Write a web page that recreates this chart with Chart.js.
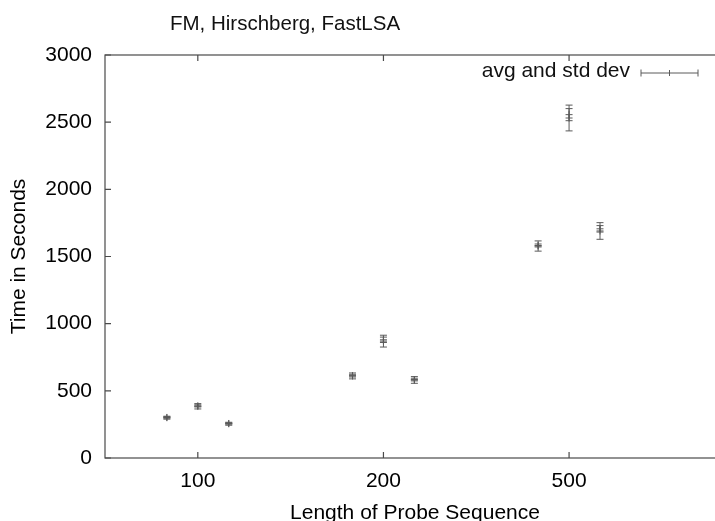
<!DOCTYPE html>
<html><head><meta charset="utf-8">
<script src="https://cdn.jsdelivr.net/npm/chart.js@4"></script>
<style>
html,body{margin:0;padding:0;overflow:hidden;background:#fff;width:715px;height:521px}
#wrap{position:absolute;left:0;top:0;width:740px;height:540px}
</style></head>
<body><div id="wrap"><canvas id="c" width="740" height="540"></canvas></div>
<script>
// ---- data ----
const chartTitle = 'FM, Hirschberg, FastLSA';
const xAxisTitle = 'Length of Probe Sequence';
const yAxisTitle = 'Time in Seconds';
const legendLabel = 'avg and std dev';
const categories = ['100', '200', '500'];           // probe lengths (x tick labels)
const algorithms = ['FM', 'Hirschberg', 'FastLSA'];  // order inside each group
const yTicks = [0, 500, 1000, 1500, 2000, 2500, 3000];

// run 1: averages and standard deviations (per probe length)
const fmAvg1 = [300, 611, 1578];
const fmStd1 = [11, 22, 38];
const hbAvg1 = [385, 870, 2531];
const hbStd1 = [20, 44, 96];
const flAvg1 = [255, 581, 1690];
const flStd1 = [11, 25, 62];
// run 2: averages and standard deviations (per probe length)
const fmAvg2 = [302, 613, 1582];
const fmStd2 = [6, 10, 11];
const hbAvg2 = [388, 880, 2556];
const hbStd2 = [8, 20, 45];
const flAvg2 = [257, 584, 1706];
const flStd2 = [5, 10, 24];

// ---- build points ----
const FONT = 'Liberation Sans, Arial, Helvetica, sans-serif';
const FS = 21;
const MARK = '#5a5a5a';
const groups = [[fmAvg1, fmStd1, fmAvg2, fmStd2], [hbAvg1, hbStd1, hbAvg2, hbStd2], [flAvg1, flStd1, flAvg2, flStd2]];
const points = [];
groups.forEach((g, a) => {
  categories.forEach((c, i) => {
    const xv = (i + 1) + (a - 1) / 6;
    points.push({x: xv, y: g[0][i], std: g[1][i]});
    points.push({x: xv, y: g[2][i], std: g[3][i]});
  });
});

const frame = {
  id: 'frame',
  afterDatasetsDraw(chart) {
    const {ctx, chartArea: ca, scales: {x, y}} = chart;
    ctx.save();
    ctx.strokeStyle = '#4a4a4a';
    ctx.lineWidth = 1.2;
    ctx.strokeRect(ca.left, ca.top, ca.right - ca.left, ca.bottom - ca.top);
    ctx.beginPath();
    y.ticks.forEach(t => {
      const py = y.getPixelForValue(t.value);
      ctx.moveTo(ca.left, py); ctx.lineTo(ca.left + 6, py);
      ctx.moveTo(ca.right, py); ctx.lineTo(ca.right - 6, py);
    });
    x.ticks.forEach(t => {
      const px = x.getPixelForValue(t.value);
      ctx.moveTo(px, ca.bottom); ctx.lineTo(px, ca.bottom - 6);
      ctx.moveTo(px, ca.top); ctx.lineTo(px, ca.top + 6);
    });
    ctx.stroke();

    // error bars
    ctx.strokeStyle = MARK;
    ctx.lineWidth = 1;
    ctx.beginPath();
    chart.data.datasets[0].data.forEach(p => {
      const px = x.getPixelForValue(p.x);
      const t = y.getPixelForValue(p.y + p.std);
      const b = y.getPixelForValue(p.y - p.std);
      ctx.moveTo(px, t); ctx.lineTo(px, b);
      ctx.moveTo(px - 3.5, t); ctx.lineTo(px + 3.5, t);
      ctx.moveTo(px - 3.5, b); ctx.lineTo(px + 3.5, b);
    });
    ctx.stroke();

    // title
    ctx.fillStyle = '#111';
    ctx.font = '20.5px ' + FONT;
    ctx.textAlign = 'left';
    ctx.textBaseline = 'middle';
    ctx.fillText(chartTitle, 170, 24);

    // legend
    const lab = chart.data.datasets[0].label;
    ctx.font = FS + 'px ' + FONT;
    ctx.textAlign = 'right';
    ctx.fillText(lab, 630, 71);
    ctx.strokeStyle = MARK;
    ctx.beginPath();
    const ly = 73;
    ctx.moveTo(641, ly); ctx.lineTo(698, ly);
    [641, 698].forEach(lx => { ctx.moveTo(lx, ly - 3.5); ctx.lineTo(lx, ly + 3.5); });
    ctx.moveTo(669.5, ly - 3); ctx.lineTo(669.5, ly + 3);
    ctx.stroke();
    ctx.restore();
  }
};

new Chart(document.getElementById('c'), {
  type: 'scatter',
  data: {
    datasets: [{
      label: legendLabel,
      data: points,
      pointStyle: 'cross',
      pointRadius: 3.5,
      pointBorderWidth: 1,
      borderColor: MARK,
      backgroundColor: MARK,
      showLine: false
    }]
  },
  options: {
    responsive: false,
    devicePixelRatio: 1,
    animation: false,
    layout: {padding: {top: 55, right: 15, left: 0, bottom: 0}},
    plugins: {legend: {display: false}, title: {display: false}, tooltip: {enabled: false}},
    scales: {
      x: {
        type: 'linear', min: 0.5, max: 3.84,
        afterBuildTicks: s => { s.ticks = categories.map((c, i) => ({value: i + 1})); },
        afterFit: s => { s.height = 82; },
        grid: {display: false, drawTicks: false},
        border: {display: false},
        ticks: {
          padding: 11, color: '#000', font: {size: FS, family: FONT}, maxRotation: 0,
          callback: v => categories[Math.round(v) - 1] ?? ''
        },
        title: {display: true, text: xAxisTitle, color: '#000', font: {size: FS, family: FONT}, padding: {top: 0, bottom: 14}}
      },
      y: {
        min: 0, max: 3000,
        afterBuildTicks: s => { s.ticks = yTicks.map(v => ({value: v})); },
        afterFit: s => { s.width = 105; },
        grid: {display: false, drawTicks: false},
        border: {display: false},
        ticks: {padding: 13, color: '#000', font: {size: FS, family: FONT}, callback: v => String(v)},
        title: {display: true, text: yAxisTitle, color: '#000', font: {size: FS, family: FONT}, padding: {top: 7, bottom: 0}}
      }
    }
  },
  plugins: [frame]
});
</script>
</body></html>
